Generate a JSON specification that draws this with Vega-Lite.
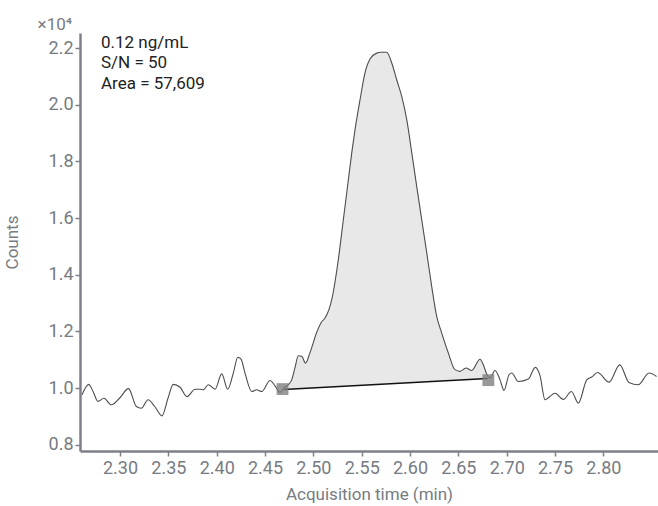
{
  "$schema": "https://vega.github.io/schema/vega-lite/v6.json",
  "width": 578,
  "height": 418,
  "autosize": {"type": "none"},
  "padding": {"left": 80, "top": 33, "right": 0, "bottom": 55},
  "background": "white",
  "config": {
    "view": {"stroke": null},
    "font": "Roboto",
    "axis": {
      "grid": false,
      "labelFont": "Roboto",
      "titleFont": "Roboto",
      "labelColor": "#777b82",
      "titleColor": "#777b82",
      "domainColor": "#7d8088",
      "domainWidth": 2.5,
      "tickColor": "#7d8088",
      "tickWidth": 1.5,
      "tickSize": 5,
      "labelFontSize": 18,
      "titleFontSize": 17,
      "titleFontWeight": "normal"
    }
  },
  "datasets": {
    "trace": [
      {"t": 2.2607, "c": 0.976}, {"t": 2.2676, "c": 1.013}, {"t": 2.2721, "c": 0.988},
      {"t": 2.2772, "c": 0.953}, {"t": 2.2834, "c": 0.964}, {"t": 2.2910, "c": 0.941},
      {"t": 2.2997, "c": 0.965}, {"t": 2.3088, "c": 0.998}, {"t": 2.3169, "c": 0.935},
      {"t": 2.3220, "c": 0.929}, {"t": 2.3290, "c": 0.959}, {"t": 2.3359, "c": 0.935},
      {"t": 2.3434, "c": 0.902}, {"t": 2.3497, "c": 0.965}, {"t": 2.3551, "c": 1.013},
      {"t": 2.3621, "c": 1.003}, {"t": 2.3693, "c": 0.970}, {"t": 2.3776, "c": 0.996},
      {"t": 2.3828, "c": 0.996}, {"t": 2.3862, "c": 0.994}, {"t": 2.3913, "c": 1.012},
      {"t": 2.3983, "c": 0.996}, {"t": 2.4052, "c": 1.050}, {"t": 2.4114, "c": 0.996},
      {"t": 2.4172, "c": 1.053}, {"t": 2.4218, "c": 1.109}, {"t": 2.4252, "c": 1.102},
      {"t": 2.4293, "c": 1.053}, {"t": 2.4362, "c": 0.988}, {"t": 2.4414, "c": 0.994},
      {"t": 2.4466, "c": 0.988}, {"t": 2.4552, "c": 1.027}, {"t": 2.4603, "c": 1.008},
      {"t": 2.4655, "c": 0.985},
      {"t": 2.4697, "c": 1.001, "base": 0.996},
      {"t": 2.4741, "c": 1.012, "base": 0.997},
      {"t": 2.4776, "c": 1.029, "base": 0.998},
      {"t": 2.4810, "c": 1.072, "base": 0.998},
      {"t": 2.4844, "c": 1.114, "base": 0.999},
      {"t": 2.4880, "c": 1.112, "base": 1.000},
      {"t": 2.4919, "c": 1.088, "base": 1.000},
      {"t": 2.4965, "c": 1.125, "base": 1.001},
      {"t": 2.5035, "c": 1.197, "base": 1.002},
      {"t": 2.5086, "c": 1.234, "base": 1.003},
      {"t": 2.5121, "c": 1.247, "base": 1.004},
      {"t": 2.5190, "c": 1.312, "base": 1.005},
      {"t": 2.5258, "c": 1.453, "base": 1.006},
      {"t": 2.5310, "c": 1.594, "base": 1.007},
      {"t": 2.5362, "c": 1.735, "base": 1.008},
      {"t": 2.5397, "c": 1.830, "base": 1.009},
      {"t": 2.5431, "c": 1.912, "base": 1.010},
      {"t": 2.5483, "c": 2.018, "base": 1.011},
      {"t": 2.5534, "c": 2.112, "base": 1.012},
      {"t": 2.5586, "c": 2.161, "base": 1.012},
      {"t": 2.5655, "c": 2.182, "base": 1.014},
      {"t": 2.5700, "c": 2.185, "base": 1.015},
      {"t": 2.5759, "c": 2.185, "base": 1.016},
      {"t": 2.5811, "c": 2.147, "base": 1.017},
      {"t": 2.5862, "c": 2.088, "base": 1.018},
      {"t": 2.5914, "c": 2.029, "base": 1.019},
      {"t": 2.5966, "c": 1.947, "base": 1.019},
      {"t": 2.6018, "c": 1.830, "base": 1.020},
      {"t": 2.6069, "c": 1.712, "base": 1.021},
      {"t": 2.6121, "c": 1.594, "base": 1.022},
      {"t": 2.6173, "c": 1.477, "base": 1.023},
      {"t": 2.6224, "c": 1.359, "base": 1.024},
      {"t": 2.6276, "c": 1.253, "base": 1.025},
      {"t": 2.6328, "c": 1.194, "base": 1.026},
      {"t": 2.6396, "c": 1.124, "base": 1.027},
      {"t": 2.6465, "c": 1.065, "base": 1.029},
      {"t": 2.6517, "c": 1.059, "base": 1.030},
      {"t": 2.6579, "c": 1.071, "base": 1.031},
      {"t": 2.6638, "c": 1.062, "base": 1.032},
      {"t": 2.6724, "c": 1.102, "base": 1.033},
      {"t": 2.6758, "c": 1.082, "base": 1.034},
      {"t": 2.6796, "c": 1.047, "base": 1.035},
      {"t": 2.6827, "c": 1.035, "base": 1.035},
      {"t": 2.6879, "c": 1.062}, {"t": 2.6931, "c": 1.029}, {"t": 2.6972, "c": 0.992},
      {"t": 2.7024, "c": 1.047}, {"t": 2.7052, "c": 1.053}, {"t": 2.7120, "c": 1.023},
      {"t": 2.7224, "c": 1.032}, {"t": 2.7296, "c": 1.073}, {"t": 2.7345, "c": 1.043},
      {"t": 2.7396, "c": 0.959}, {"t": 2.7500, "c": 0.982}, {"t": 2.7586, "c": 0.960},
      {"t": 2.7669, "c": 0.988}, {"t": 2.7741, "c": 0.947}, {"t": 2.7828, "c": 1.029},
      {"t": 2.7883, "c": 1.040}, {"t": 2.7940, "c": 1.055}, {"t": 2.8059, "c": 1.021},
      {"t": 2.8169, "c": 1.082}, {"t": 2.8265, "c": 1.020}, {"t": 2.8361, "c": 1.012},
      {"t": 2.8472, "c": 1.053}, {"t": 2.8550, "c": 1.041}
    ],
    "baseline": [{"t": 2.4693, "c": 0.995, "t2": 2.6802, "c2": 1.034}],
    "markers": [{"t": 2.4681, "c": 0.9965}, {"t": 2.6810, "c": 1.028}],
    "notes": [
      {"t": 2.2803, "c": 2.219, "label": "0.12 ng/mL"},
      {"t": 2.2803, "c": 2.147, "label": "S/N = 50"},
      {"t": 2.2803, "c": 2.072, "label": "Area = 57,609"}
    ],
    "exponent": [{"t": 2.2503, "c": 2.281, "label": "×10⁴"}]
  },
  "encoding": {
    "x": {
      "field": "t",
      "type": "quantitative",
      "scale": {"domain": [2.2586, 2.8565], "nice": false, "zero": false},
      "axis": {
        "title": "Acquisition time (min)",
        "values": [2.3, 2.35, 2.4, 2.45, 2.5, 2.55, 2.6, 2.65, 2.7, 2.75, 2.8],
        "format": ".2f",
        "labelPadding": 3,
        "titlePadding": 9
      }
    },
    "y": {
      "field": "c",
      "type": "quantitative",
      "scale": {"domain": [0.778, 2.253], "nice": false, "zero": false},
      "axis": {
        "title": "Counts",
        "values": [0.8, 1.0, 1.2, 1.4, 1.6, 1.8, 2.0, 2.2],
        "format": ".1f",
        "labelPadding": 2,
        "titleX": -68,
        "titleY": 209,
        "titleAlign": "center",
        "titleBaseline": "middle",
        "titleAngle": -90
      }
    }
  },
  "layer": [
    {
      "data": {"name": "trace"},
      "transform": [{"filter": "isValid(datum.base)"}],
      "mark": {"type": "area", "color": "#e8e8e8", "interpolate": "monotone"},
      "encoding": {"y2": {"field": "base"}}
    },
    {
      "data": {"name": "trace"},
      "mark": {"type": "line", "color": "#4d4d4d", "strokeWidth": 1.1, "interpolate": "monotone"},
      "encoding": {}
    },
    {
      "data": {"name": "baseline"},
      "mark": {"type": "rule", "color": "#111111", "strokeWidth": 1.6},
      "encoding": {"x2": {"field": "t2"}, "y2": {"field": "c2"}}
    },
    {
      "data": {"name": "markers"},
      "mark": {"type": "point", "shape": "square", "size": 140, "filled": true, "color": "#808080", "opacity": 0.8},
      "encoding": {}
    },
    {
      "data": {"name": "notes"},
      "mark": {"type": "text", "align": "left", "baseline": "middle", "fontSize": 17, "color": "#222222", "font": "Roboto"},
      "encoding": {"text": {"field": "label"}}
    },
    {
      "data": {"name": "exponent"},
      "mark": {"type": "text", "align": "right", "baseline": "middle", "fontSize": 17, "color": "#777b82", "font": "Roboto"},
      "encoding": {"text": {"field": "label"}}
    }
  ]
}
